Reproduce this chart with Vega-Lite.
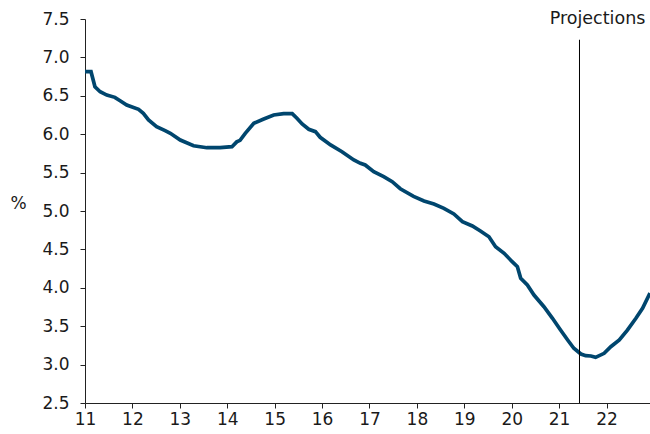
{
  "$schema": "https://vega.github.io/schema/vega-lite/v6.json",
  "autosize": {"type": "none"},
  "padding": {"left": 85, "top": 19, "right": 0, "bottom": 31},
  "width": 565,
  "height": 384,
  "background": "white",
  "config": {
    "view": {"stroke": null},
    "font": "DejaVu Sans",
    "axis": {"grid": false, "domainColor": "#222", "tickColor": "#222", "labelColor": "#1a1a1a", "labelFont": "DejaVu Sans", "labelFontSize": 17, "tickSize": 5, "domainWidth": 1, "tickWidth": 1, "labelOverlap": false}
  },
  "datasets": {
    "rate": [
      {"t": 11.0, "v": 6.814}, {"t": 11.127, "v": 6.814}, {"t": 11.21, "v": 6.618}, {"t": 11.32, "v": 6.553},
      {"t": 11.46, "v": 6.51}, {"t": 11.63, "v": 6.48}, {"t": 11.74, "v": 6.436}, {"t": 11.88, "v": 6.38},
      {"t": 12.13, "v": 6.324}, {"t": 12.23, "v": 6.272}, {"t": 12.34, "v": 6.185}, {"t": 12.51, "v": 6.098},
      {"t": 12.69, "v": 6.046}, {"t": 12.8, "v": 6.012}, {"t": 13.01, "v": 5.924}, {"t": 13.29, "v": 5.85},
      {"t": 13.57, "v": 5.824}, {"t": 13.85, "v": 5.824}, {"t": 14.1, "v": 5.837}, {"t": 14.2, "v": 5.9},
      {"t": 14.27, "v": 5.92}, {"t": 14.38, "v": 6.01}, {"t": 14.56, "v": 6.142}, {"t": 14.77, "v": 6.198},
      {"t": 14.98, "v": 6.25}, {"t": 15.19, "v": 6.268}, {"t": 15.37, "v": 6.268}, {"t": 15.47, "v": 6.207},
      {"t": 15.58, "v": 6.133}, {"t": 15.72, "v": 6.064}, {"t": 15.86, "v": 6.033}, {"t": 15.96, "v": 5.96},
      {"t": 16.18, "v": 5.86}, {"t": 16.42, "v": 5.772}, {"t": 16.67, "v": 5.664}, {"t": 16.81, "v": 5.621},
      {"t": 16.91, "v": 5.599}, {"t": 17.09, "v": 5.512}, {"t": 17.3, "v": 5.447}, {"t": 17.48, "v": 5.382},
      {"t": 17.65, "v": 5.29}, {"t": 17.93, "v": 5.19}, {"t": 18.15, "v": 5.13}, {"t": 18.36, "v": 5.091},
      {"t": 18.57, "v": 5.035}, {"t": 18.78, "v": 4.961}, {"t": 18.96, "v": 4.861}, {"t": 19.17, "v": 4.805},
      {"t": 19.34, "v": 4.74}, {"t": 19.52, "v": 4.665}, {"t": 19.66, "v": 4.535}, {"t": 19.84, "v": 4.449},
      {"t": 20.01, "v": 4.34}, {"t": 20.12, "v": 4.275}, {"t": 20.19, "v": 4.124}, {"t": 20.33, "v": 4.036},
      {"t": 20.47, "v": 3.906}, {"t": 20.68, "v": 3.754}, {"t": 20.86, "v": 3.603}, {"t": 21.03, "v": 3.45},
      {"t": 21.18, "v": 3.32}, {"t": 21.31, "v": 3.212}, {"t": 21.46, "v": 3.138}, {"t": 21.56, "v": 3.116},
      {"t": 21.67, "v": 3.112}, {"t": 21.77, "v": 3.095}, {"t": 21.95, "v": 3.147}, {"t": 22.09, "v": 3.233},
      {"t": 22.27, "v": 3.32}, {"t": 22.44, "v": 3.45}, {"t": 22.62, "v": 3.603}, {"t": 22.76, "v": 3.733},
      {"t": 22.917, "v": 3.93}
    ],
    "marker": [{"t": 21.43, "label": "Projections", "labelT": 21.81}]
  },
  "layer": [
    {
      "data": {"name": "rate"},
      "mark": {"type": "line", "color": "#00466e", "strokeWidth": 3.7, "clip": true},
      "encoding": {
        "x": {"field": "t", "type": "quantitative", "scale": {"domain": [11, 22.917], "nice": false, "zero": false},
          "axis": {"values": [11,12,13,14,15,16,17,18,19,20,21,22], "tickCount": 30, "format": "d", "title": null, "labelPadding": 3, "labelFlush": false}},
        "y": {"field": "v", "type": "quantitative", "scale": {"domain": [2.5, 7.5], "nice": false, "zero": false},
          "axis": {"values": [2.5,3,3.5,4,4.5,5,5.5,6,6.5,7,7.5], "tickCount": 30, "format": ".1f", "labelPadding": 11, "labelFlush": false,
            "title": "%", "titleAngle": 0, "titleX": -67, "titleY": 184, "titleAlign": "center", "titleBaseline": "middle",
            "titleFont": "DejaVu Sans", "titleFontSize": 17, "titleFontWeight": "normal", "titleColor": "#1a1a1a"}}
      }
    },
    {
      "data": {"name": "marker"},
      "mark": {"type": "rule", "color": "#000", "strokeWidth": 1},
      "encoding": {
        "x": {"field": "t", "type": "quantitative"},
        "y": {"datum": 2.5},
        "y2": {"datum": 7.23}
      }
    },
    {
      "data": {"name": "marker"},
      "mark": {"type": "text", "font": "DejaVu Sans", "fontSize": 17.5, "color": "#1a1a1a", "align": "center", "baseline": "middle"},
      "encoding": {
        "x": {"field": "labelT", "type": "quantitative"},
        "y": {"datum": 7.5},
        "text": {"field": "label"}
      }
    }
  ]
}
